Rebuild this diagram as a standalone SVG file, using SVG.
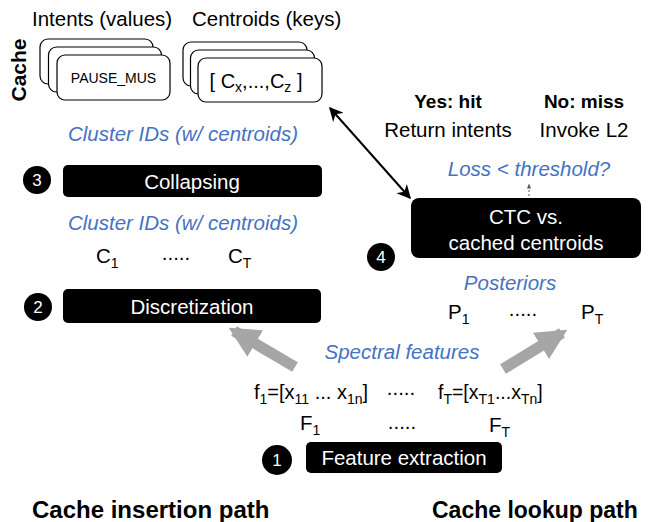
<svg xmlns="http://www.w3.org/2000/svg" width="652" height="522" viewBox="0 0 652 522">
<style>
text{font-family:"Liberation Sans",Arial,sans-serif;fill:#000}
.t{font-size:20.5px}
.b{font-weight:bold}
.blue{fill:#4472C4;font-style:italic;font-size:20.5px}
.card{fill:#fff;stroke:#000;stroke-width:1.2}
.blk{fill:#000}
.wt{fill:#fff;font-size:20.5px}
.num{fill:#fff;font-size:17px}
.sub{font-size:14px}
</style>
<defs>
<marker id="ah" viewBox="0 0 10 10" refX="9" refY="5" markerWidth="7" markerHeight="7" orient="auto-start-reverse"><path d="M0,0 L10,5 L0,10 L3,5 z" fill="#000"/></marker>
<marker id="gh" viewBox="0 0 10 10" refX="8" refY="5" markerWidth="2.8" markerHeight="2.8" orient="auto"><path d="M0,0 L10,5 L0,10 z" fill="#A6A6A6"/></marker>
<marker id="sh" viewBox="0 0 10 10" refX="9" refY="5" markerWidth="5" markerHeight="5" orient="auto"><path d="M0,1 L10,5 L0,9 z" fill="#555"/></marker>
</defs>

<text class="t" x="32" y="26">Intents (values)</text>
<text class="t" x="192" y="26">Centroids (keys)</text>
<text class="b" font-size="21" transform="translate(26,70) rotate(-90)" text-anchor="middle">Cache</text>

<g id="intents-cache">
<rect class="card" x="40" y="39" width="113" height="45" rx="8"/>
<rect class="card" x="48.5" y="47" width="113" height="45" rx="8"/>
<rect class="card" x="57" y="55" width="113" height="45" rx="8"/>
<text x="113.5" y="83" text-anchor="middle" font-size="14">PAUSE_MUS</text>
</g>
<g id="centroids-cache">
<rect class="card" x="183" y="42" width="124" height="44" rx="8"/>
<rect class="card" x="190.5" y="50" width="124" height="44" rx="8"/>
<rect class="card" x="198" y="58" width="124" height="44" rx="8"/>
<text x="256" y="88" text-anchor="middle" font-size="20">[ C<tspan class="sub" dy="4">x</tspan><tspan dy="-4">,...,C</tspan><tspan class="sub" dy="4">z</tspan><tspan dy="-4"> ]</tspan></text>
</g>

<g id="connectors">
<line x1="330" y1="108" x2="410" y2="198" stroke="#000" stroke-width="2" marker-start="url(#ah)" marker-end="url(#ah)"/>
<line x1="529" y1="196" x2="529" y2="184" stroke="#555" stroke-width="1" stroke-dasharray="2,2" marker-end="url(#sh)"/>
<line x1="295" y1="367" x2="234" y2="331" stroke="#A6A6A6" stroke-width="11" marker-end="url(#gh)"/>
<line x1="503" y1="369" x2="562" y2="333" stroke="#A6A6A6" stroke-width="11" marker-end="url(#gh)"/>
</g>

<text class="b" x="448" y="108" text-anchor="middle" font-size="19">Yes: hit</text>
<text class="t" x="448" y="137" text-anchor="middle">Return intents</text>
<text class="b" x="584" y="108" text-anchor="middle" font-size="19">No: miss</text>
<text class="t" x="584" y="137" text-anchor="middle">Invoke L2</text>
<text class="blue" x="529" y="176" text-anchor="middle">Loss &lt; threshold?</text>

<g id="ctc">
<rect class="blk" x="411" y="198" width="230" height="60" rx="8"/>
<text class="wt" x="526" y="224" text-anchor="middle">CTC vs.</text>
<text class="wt" x="526" y="250" text-anchor="middle">cached centroids</text>
</g>
<g id="step4"><circle cx="381" cy="257" r="14" class="blk"/><text class="num" x="381" y="263" text-anchor="middle">4</text></g>

<text class="blue" x="183" y="141" text-anchor="middle">Cluster IDs (w/ centroids)</text>

<g id="collapsing">
<rect class="blk" x="63" y="165" width="259" height="32" rx="5"/>
<text class="wt" x="192" y="189" text-anchor="middle">Collapsing</text>
</g>
<g id="step3"><circle cx="37" cy="180" r="14" class="blk"/><text class="num" x="37" y="186" text-anchor="middle">3</text></g>

<text class="blue" x="183" y="230" text-anchor="middle">Cluster IDs (w/ centroids)</text>
<text class="t" x="96" y="263">C<tspan class="sub" dy="5">1</tspan></text>
<text class="t" x="176" y="260" text-anchor="middle">.....</text>
<text class="t" x="228" y="263">C<tspan class="sub" dy="5">T</tspan></text>

<g id="discretization">
<rect class="blk" x="63" y="289" width="258" height="34" rx="5"/>
<text class="wt" x="192" y="314" text-anchor="middle">Discretization</text>
</g>
<g id="step2"><circle cx="38" cy="307" r="14" class="blk"/><text class="num" x="38" y="313" text-anchor="middle">2</text></g>

<text class="blue" x="510" y="290" text-anchor="middle">Posteriors</text>
<text class="t" x="448" y="319">P<tspan class="sub" dy="5">1</tspan></text>
<text class="t" x="523" y="316" text-anchor="middle">.....</text>
<text class="t" x="581" y="319">P<tspan class="sub" dy="5">T</tspan></text>

<text class="blue" x="402" y="359" text-anchor="middle">Spectral features</text>

<text x="254" y="399" font-size="20">f<tspan class="sub" dy="5">1</tspan><tspan dy="-5">=[x</tspan><tspan class="sub" dy="5">11</tspan><tspan dy="-5"> ... x</tspan><tspan class="sub" dy="5">1n</tspan><tspan dy="-5">]</tspan></text>
<text class="t" x="401" y="395" text-anchor="middle">.....</text>
<text x="438" y="399" font-size="19.5">f<tspan class="sub" dy="5">T</tspan><tspan dy="-5">=[x</tspan><tspan class="sub" dy="5">T1</tspan><tspan dy="-5">...x</tspan><tspan class="sub" dy="5">Tn</tspan><tspan dy="-5">]</tspan></text>

<text class="t" x="300" y="430">F<tspan class="sub" dy="5">1</tspan></text>
<text class="t" x="402" y="429" text-anchor="middle">.....</text>
<text class="t" x="489" y="432">F<tspan class="sub" dy="5">T</tspan></text>

<g id="feature-extraction">
<rect class="blk" x="306" y="442" width="196" height="31" rx="5"/>
<text class="wt" x="404" y="465" text-anchor="middle">Feature extraction</text>
</g>
<g id="step1"><circle cx="277" cy="460" r="15" class="blk"/><text class="num" x="277" y="466" text-anchor="middle">1</text></g>

<text class="b" x="32" y="518" font-size="24">Cache insertion path</text>
<text class="b" x="432" y="518" font-size="23">Cache lookup path</text>
</svg>
